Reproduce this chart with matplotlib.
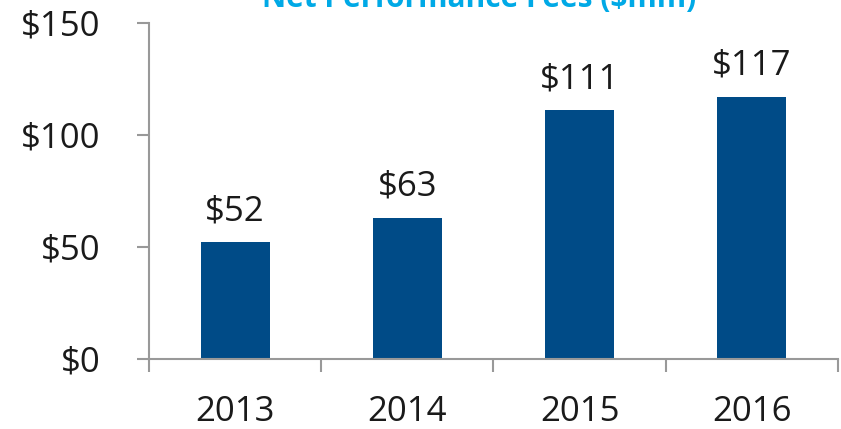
import matplotlib
matplotlib.use("Agg")
import matplotlib.pyplot as plt

years = ['2013', '2014', '2015', '2016']
fees = [52, 63, 111, 117]
labels = ['$52', '$63', '$111', '$117']
y_ticks = [0, 50, 100, 150]
y_tick_labels = ['$0', '$50', '$100', '$150']

plt.rcParams['font.family'] = ['Open Sans', 'DejaVu Sans']

fig = plt.figure(figsize=(8.41, 4.29), dpi=100)
ax = fig.add_axes([0.1772, 0.1639, 0.8192, 0.7825])

x = range(len(years))
ax.bar(x, fees, width=0.4, color='#004B87')

# value labels above bars
for i, (v, lab) in enumerate(zip(fees, labels)):
    ax.annotate(lab, (i, v), xytext=(0, 10), textcoords='offset points',
                ha='center', va='bottom', fontsize=25, color='#1a1a1a')

ax.set_xlim(-0.5, len(years) - 0.5)
ax.set_ylim(0, 150)
ax.set_yticks(y_ticks)
ax.set_yticklabels(y_tick_labels)
# tick marks between categories, labels centred under bars
ax.set_xticks([i - 0.5 for i in range(len(years) + 1)], minor=False)
ax.set_xticklabels([])
ax.set_xticks(list(x), minor=True)
ax.set_xticklabels(years, minor=True)

for s in ['top', 'right']:
    ax.spines[s].set_visible(False)
for s in ['left', 'bottom']:
    ax.spines[s].set_color('#999999')
    ax.spines[s].set_linewidth(1.5)

ax.tick_params(axis='y', length=9, width=1.5, color='#999999', labelsize=25, pad=26, labelcolor='#1a1a1a')
ax.tick_params(axis='x', which='major', direction='out', length=9, width=1.5, color='#999999')
ax.tick_params(axis='x', which='minor', length=0, labelsize=25, pad=26, labelcolor='#1a1a1a')

fig.text(0.57, 0.984, 'Net Performance Fees ($mm)', ha='center', va='baseline',
         fontsize=21.5, fontweight='bold', color='#00A9E6')

fig.savefig('out.png', dpi=100)
